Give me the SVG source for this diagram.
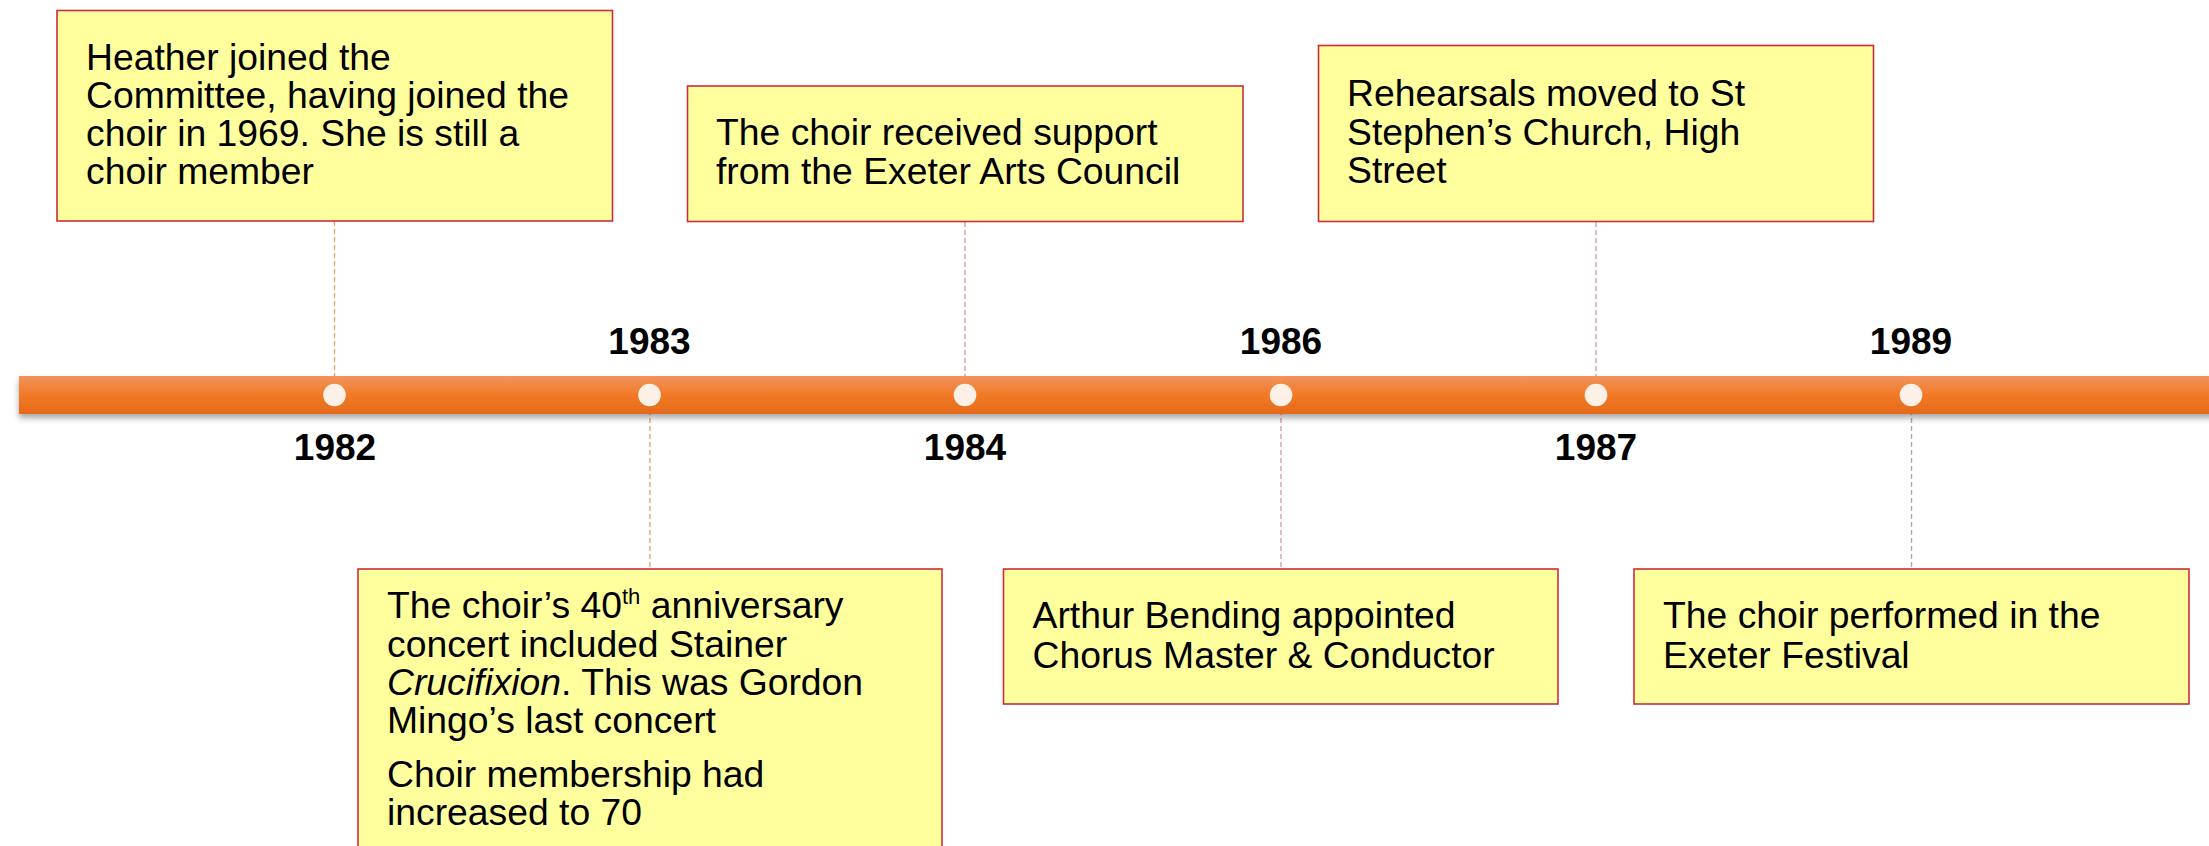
<svg xmlns="http://www.w3.org/2000/svg" width="2209" height="846" viewBox="0 0 2209 846">
<defs>
<linearGradient id="band" x1="0" y1="0" x2="0" y2="1">
<stop offset="0" stop-color="#F0935E"/>
<stop offset="0.5" stop-color="#F27A26"/>
<stop offset="1" stop-color="#E46A1A"/>
</linearGradient>
<filter id="shadow" x="-5%" y="-50%" width="110%" height="220%">
<feDropShadow dx="0" dy="4" stdDeviation="3" flood-color="#000" flood-opacity="0.35"/>
</filter>
<style>
.box{fill:#FFFF9E;stroke:#CE2C3E;stroke-width:1.6}
.t{font-family:"Liberation Sans",Arial,sans-serif;font-size:37.3px;fill:#000}
.yr{font-family:"Liberation Sans",Arial,sans-serif;font-size:37px;font-weight:bold;fill:#000;text-anchor:middle}
.dot{fill:#FDF1E7}
.c{fill:none;stroke-width:1.4;stroke-dasharray:5 3}
</style>
</defs>
<rect width="2209" height="846" fill="#FFFFFF"/>

<g id="connectors">
<line class="c" x1="334.5" y1="221" x2="334.5" y2="380" stroke="#F2A06E"/>
<line class="c" x1="965" y1="222" x2="965" y2="380" stroke="#E59593"/>
<line class="c" x1="1596" y1="222" x2="1596" y2="380" stroke="#CFA7A9"/>
<line class="c" x1="650" y1="410" x2="650" y2="569" stroke="#EE9F78"/>
<line class="c" x1="1281" y1="410" x2="1281" y2="569" stroke="#D8A0A4"/>
<line class="c" x1="1911.5" y1="410" x2="1911.5" y2="569" stroke="#AAAAAA"/>
</g>

<g id="timeline">
<rect x="19" y="376" width="2210" height="38" fill="url(#band)" filter="url(#shadow)"/>
<circle class="dot" cx="334.5" cy="395" r="11.3"/>
<circle class="dot" cx="649.5" cy="395" r="11.3"/>
<circle class="dot" cx="965" cy="395" r="11.3"/>
<circle class="dot" cx="1281" cy="395" r="11.3"/>
<circle class="dot" cx="1596" cy="395" r="11.3"/>
<circle class="dot" cx="1911" cy="395" r="11.3"/>
</g>

<g id="years">
<text class="yr" x="335" y="460">1982</text>
<text class="yr" x="649.5" y="354">1983</text>
<text class="yr" x="965" y="460">1984</text>
<text class="yr" x="1281" y="354">1986</text>
<text class="yr" x="1596" y="460">1987</text>
<text class="yr" x="1911" y="354">1989</text>
</g>

<g id="node-1982">
<rect class="box" x="57" y="10.5" width="555.5" height="210.5"/>
<text class="t" x="86" y="70">Heather joined the</text>
<text class="t" x="86" y="108">Committee, having joined the</text>
<text class="t" x="86" y="146">choir in 1969. She is still a</text>
<text class="t" x="86" y="184">choir member</text>
</g>

<g id="node-1984">
<rect class="box" x="687.5" y="86" width="555.5" height="135.5"/>
<text class="t" x="716" y="145">The choir received support</text>
<text class="t" x="716" y="184">from the Exeter Arts Council</text>
</g>

<g id="node-1987">
<rect class="box" x="1318.5" y="45.5" width="555" height="176"/>
<text class="t" x="1347" y="106">Rehearsals moved to St</text>
<text class="t" x="1347" y="145">Stephen’s Church, High</text>
<text class="t" x="1347" y="183">Street</text>
</g>

<g id="node-1983">
<rect class="box" x="358" y="569" width="584" height="290"/>
<text class="t" x="387" y="618">The choir’s 40<tspan font-size="22" dy="-14">th</tspan><tspan dy="14"> anniversary</tspan></text>
<text class="t" x="387" y="656.5">concert included Stainer</text>
<text class="t" x="387" y="694.5"><tspan font-style="italic">Crucifixion</tspan>. This was Gordon</text>
<text class="t" x="387" y="733">Mingo’s last concert</text>
<text class="t" x="387" y="787">Choir membership had</text>
<text class="t" x="387" y="825">increased to 70</text>
</g>

<g id="node-1986">
<rect class="box" x="1003.5" y="569" width="554.5" height="135"/>
<text class="t" x="1032.5" y="628">Arthur Bending appointed</text>
<text class="t" x="1032.5" y="667.5">Chorus Master &amp; Conductor</text>
</g>

<g id="node-1989">
<rect class="box" x="1634" y="569" width="555" height="135"/>
<text class="t" x="1663" y="628">The choir performed in the</text>
<text class="t" x="1663" y="667.5">Exeter Festival</text>
</g>
</svg>
